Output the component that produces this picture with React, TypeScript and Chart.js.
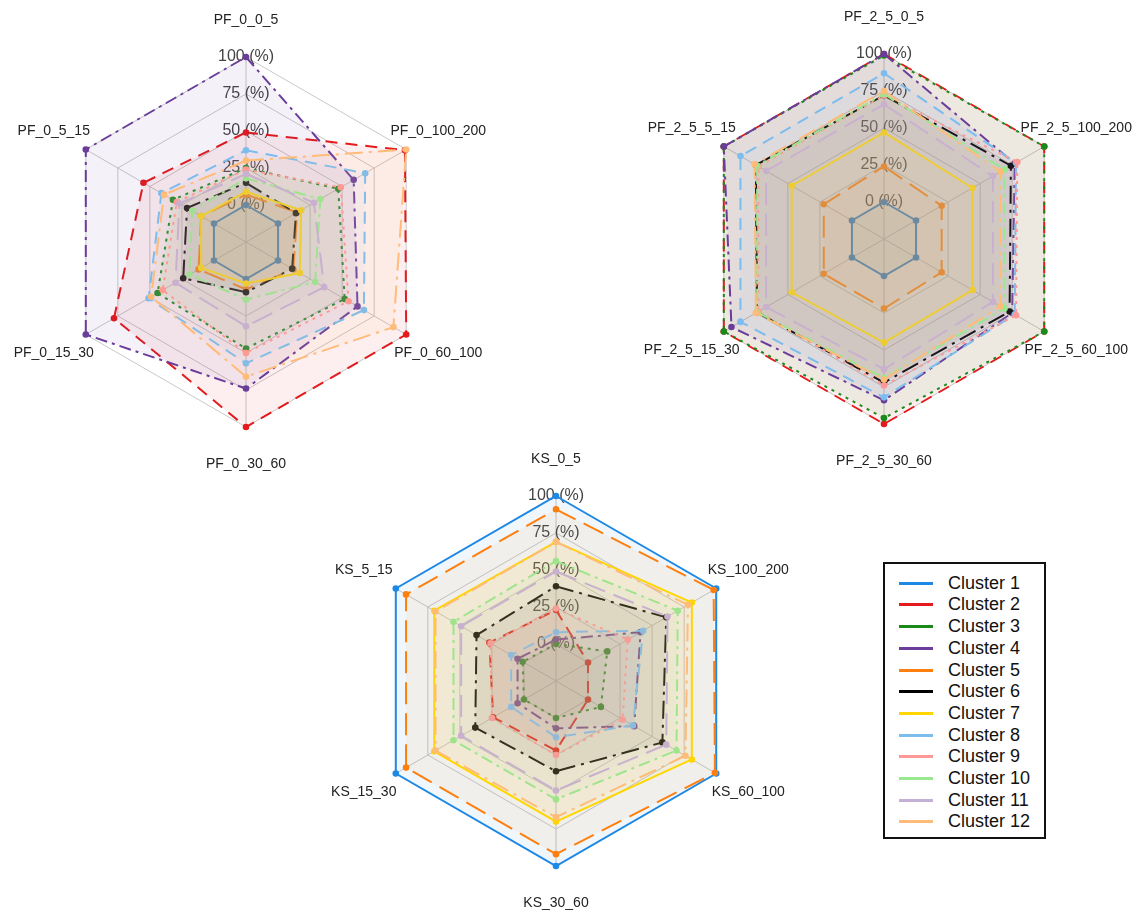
import React, { useEffect, useRef } from 'react';
import { Chart, registerables } from 'chart.js';

Chart.register(...registerables);

// ---- Series definitions ----
const clusterNames = [
  'Cluster 1', 'Cluster 2', 'Cluster 3', 'Cluster 4', 'Cluster 5', 'Cluster 6',
  'Cluster 7', 'Cluster 8', 'Cluster 9', 'Cluster 10', 'Cluster 11', 'Cluster 12',
];
const clusterColors = [
  '#1E88E5', '#E41A1C', '#1A8A1A', '#6A3D9A', '#FF7F0E', '#000000',
  '#FFD600', '#7CBDEE', '#FF9896', '#98E890', '#C5B0D5', '#FFBB78',
];
// solid, dash, dot, dashdot, longdash, longdashdot (repeated)
const clusterDashes: number[][] = [
  [], [12, 8], [3, 5], [12, 5, 3, 5], [22, 9], [18, 6, 3, 6],
  [], [12, 8], [3, 5], [12, 5, 3, 5], [22, 9], [18, 6, 3, 6],
];

// ---- Radial axis ----
const radialMin = -25;
const radialMax = 100;
const radialStep = 25;
const tickSuffix = ' (%)';

// ---- Chart 1: PF_0 (axes listed clockwise from the top) ----
const pf0Labels = ['PF_0_0_5', 'PF_0_100_200', 'PF_0_60_100', 'PF_0_30_60', 'PF_0_15_30', 'PF_0_5_15'];
const pf0Values = [
  [0, 0, 0, 0, 0, 0],
  [49, 99, 100, 100, 78, 55],
  [25, 47, 52, 47, 44, 32],
  [100, 59, 62, 74, 100, 100],
  [7, 15, 12, 7, 12, 10],
  [15, 14, 11, 9, 24, 21],
  [9, 18, 17, 3, 10, 10],
  [37, 68, 67, 57, 51, 41],
  [24, 49, 55, 50, 40, 29],
  [18, 33, 29, 14, 19, 17],
  [21, 28, 36, 32, 30, 27],
  [30, 100, 90, 66, 49, 39],
];

// ---- Chart 2: PF_2_5 ----
const pf25Labels = ['PF_2_5_0_5', 'PF_2_5_100_200', 'PF_2_5_60_100', 'PF_2_5_30_60', 'PF_2_5_15_30', 'PF_2_5_5_15'];
const pf25Values = [
  [0, 0, 0, 0, 0, 0],
  [100, 100, 100, 100, 100, 100],
  [99, 100, 100, 96, 100, 100],
  [100, 77, 75, 84, 94, 100],
  [24, 20, 20, 22, 22, 22],
  [72, 74, 73, 72, 74, 75],
  [47, 44, 44, 45, 47, 47],
  [87, 78, 77, 82, 87, 87],
  [72, 79, 78, 74, 73, 73],
  [73, 69, 69, 69, 74, 74],
  [66, 60, 60, 63, 67, 67],
  [75, 66, 66, 70, 75, 76],
];

// ---- Chart 3: KS ----
const ksLabels = ['KS_0_5', 'KS_100_200', 'KS_60_100', 'KS_30_60', 'KS_15_30', 'KS_5_15'];
const ksValues = [
  [100, 100, 100, 100, 100, 100],
  [23, 0, 0, 22, 24, 27],
  [0, 15, 10, 0, 0, 1],
  [3, 41, 36, 7, 5, 5],
  [91, 98, 99, 92, 92, 92],
  [39, 61, 58, 36, 38, 37],
  [69, 81, 81, 70, 70, 70],
  [8, 43, 35, 13, 10, 10],
  [24, 31, 27, 25, 25, 26],
  [56, 70, 69, 55, 55, 55],
  [49, 62, 61, 49, 49, 49],
  [69, 78, 76, 67, 69, 69],
];

const FONT = '"Liberation Sans", Arial, Helvetica, sans-serif';
const RADIUS = 185;
const TICK_FONT_SIZE = 16;

function withAlpha(hex: string, a: number) {
  const n = parseInt(hex.slice(1), 16);
  return `rgba(${(n >> 16) & 255}, ${(n >> 8) & 255}, ${n & 255}, ${a})`;
}

// Category names drawn outside the web, centred on each spoke
const outerLabels = {
  id: 'outerLabels',
  afterDraw(chart: any) {
    const scale = chart.scales.r;
    const ctx = chart.ctx;
    ctx.save();
    ctx.font = `14px ${FONT}`;
    ctx.fillStyle = '#222';
    ctx.textAlign = 'center';
    ctx.textBaseline = 'middle';
    (chart.data.labels as string[]).forEach((label, i) => {
      const p = scale.getPointPosition(i, scale.drawingArea * 1.2);
      ctx.fillText(label, p.x, p.y);
    });
    ctx.restore();
  },
};

type RadarProps = {
  labels: string[];
  values: number[][];
  cx: number;
  cy: number;
  left: number;
  top: number;
  width: number;
  height: number;
};

function Radar({ labels, values, cx, cy, left, top, width, height }: RadarProps) {
  const ref = useRef<HTMLCanvasElement | null>(null);

  useEffect(() => {
    if (!ref.current) return;
    // The radial scale keeps room for the tick font around the web, so the
    // chart area is sized a little larger than the web itself.
    const areaW = 2 * RADIUS + TICK_FONT_SIZE;
    const areaH = areaW + TICK_FONT_SIZE / 2;
    const padLeft = cx - left - areaW / 2;
    const padRight = width - padLeft - areaW;
    const padTop = cy - top - areaH / 2;
    const padBottom = height - padTop - areaH;

    const chart = new Chart(ref.current, {
      type: 'radar',
      data: {
        labels,
        datasets: values.map((row, i) => ({
          label: clusterNames[i],
          data: row,
          order: values.length - i,
          borderColor: clusterColors[i],
          backgroundColor: withAlpha(clusterColors[i], 0.07),
          borderWidth: 2,
          borderDash: clusterDashes[i],
          fill: 'start',
          pointRadius: 3.3,
          pointBorderWidth: 0,
          pointBackgroundColor: clusterColors[i],
          tension: 0,
        })),
      },
      options: {
        responsive: false,
        animation: false,
        layout: { padding: { left: padLeft, right: padRight, top: padTop, bottom: padBottom } },
        plugins: {
          legend: { display: false },
          tooltip: { enabled: false },
        },
        scales: {
          r: {
            min: radialMin,
            max: radialMax,
            ticks: {
              stepSize: radialStep,
              callback: (v: any) => (Number(v) < 0 ? '' : `${v}${tickSuffix}`),
              showLabelBackdrop: false,
              backdropPadding: 0,
              color: '#444',
              font: { size: TICK_FONT_SIZE, family: FONT },
            },
            grid: { color: '#c8c8c8', lineWidth: 1 },
            angleLines: { color: '#c8c8c8', lineWidth: 1 },
            pointLabels: { display: false },
          },
        },
      } as any,
      plugins: [outerLabels],
    });
    return () => chart.destroy();
  }, [labels, values, cx, cy, left, top, width, height]);

  return (
    <canvas
      ref={ref}
      width={width}
      height={height}
      style={{ position: 'absolute', left, top, width, height }}
    />
  );
}

function Legend() {
  return (
    <div
      style={{
        position: 'absolute',
        left: 883,
        top: 562,
        width: 159,
        height: 273,
        border: '2px solid #111',
        background: '#fff',
      }}
    >
      {clusterNames.map((name, i) => (
        <div
          key={name}
          style={{
            position: 'absolute',
            left: 14,
            top: 8.5 + i * 21.67,
            height: 21.67,
            display: 'flex',
            alignItems: 'center',
            whiteSpace: 'nowrap',
          }}
        >
          <span style={{ display: 'inline-block', width: 34, height: 3, background: clusterColors[i] }} />
          <span style={{ marginLeft: 15, font: `18px ${FONT}`, color: '#111', lineHeight: '21px' }}>{name}</span>
        </div>
      ))}
    </div>
  );
}

export default function App() {
  return (
    <div
      style={{
        position: 'fixed',
        left: 0,
        top: 0,
        width: 1136,
        height: 915,
        overflow: 'hidden',
        background: '#fff',
      }}
    >
      <Radar labels={pf0Labels} values={pf0Values} cx={246} cy={242} left={-4} top={0} width={500} height={480} />
      <Radar labels={pf25Labels} values={pf25Values} cx={884} cy={239} left={634} top={0} width={500} height={480} />
      <Radar labels={ksLabels} values={ksValues} cx={556} cy={681} left={306} top={441} width={500} height={474} />
      <Legend />
    </div>
  );
}
